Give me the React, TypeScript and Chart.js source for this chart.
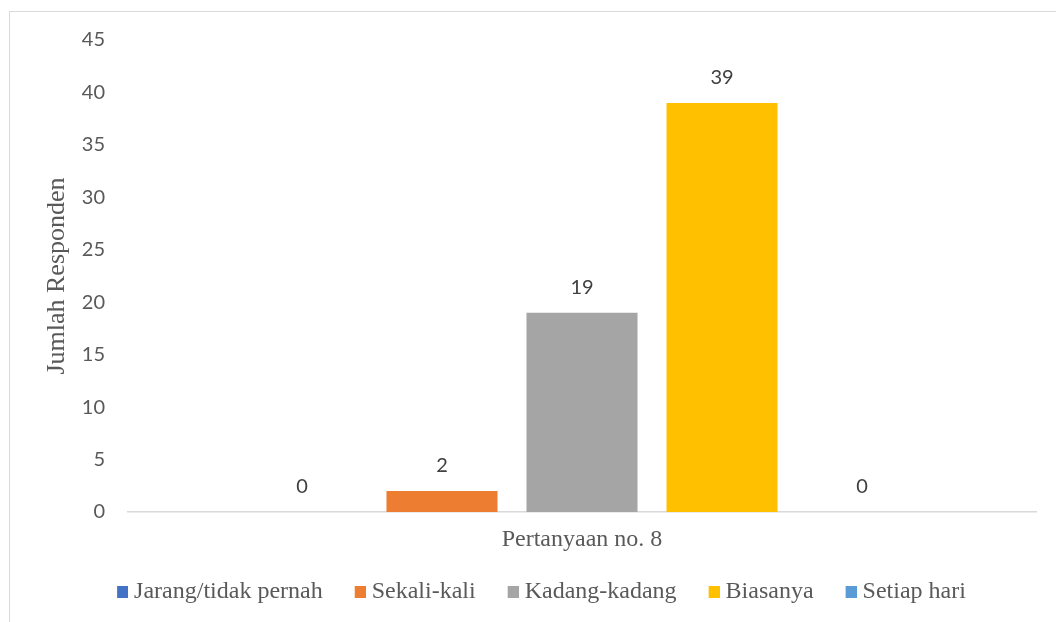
import React, { useEffect, useRef } from "react";
import { Chart, registerables } from "chart.js";

Chart.register(...registerables);

const categories = ["Pertanyaan no. 8"];
const seriesNames = ["Jarang/tidak pernah", "Sekali-kali", "Kadang-kadang", "Biasanya", "Setiap hari"];
const seriesValues = [[0], [2], [19], [39], [0]];
const seriesColors = ["#4472C4", "#ED7D31", "#A5A5A5", "#FFC000", "#5B9BD5"];
const yTitle = "Jumlah Responden";
const yMax = 45;
const yStep = 5;

const SANS = "Lato, 'Open Sans', sans-serif";
const SERIF = "'Liberation Serif', 'Times New Roman', serif";
const TEXT = "#595959";

const valueLabels = {
  id: "valueLabels",
  afterDatasetsDraw(chart: any) {
    const ctx = chart.ctx;
    ctx.save();
    ctx.font = `20px ${SANS}`;
    ctx.fillStyle = "#404040";
    ctx.textAlign = "center";
    ctx.textBaseline = "middle";
    chart.data.datasets.forEach((ds: any, i: number) => {
      const meta = chart.getDatasetMeta(i);
      meta.data.forEach((bar: any, j: number) => {
        ctx.fillText(String(ds.data[j]), bar.x, bar.y - 25);
      });
    });
    ctx.restore();
  },
};

const SW_W = 7; // pointStyleWidth
function makeSwatch(color: string) {
  const c = document.createElement("canvas");
  c.width = SW_W + 12;
  c.height = 12;
  const g = c.getContext("2d")!;
  g.fillStyle = color;
  g.fillRect(c.width - 11, 0, 11, 12);
  return c;
}

export default function App() {
  const ref = useRef<HTMLCanvasElement>(null);
  useEffect(() => {
    if (!ref.current) return;
    const swatches = seriesColors.map(makeSwatch);
    const chart = new Chart(ref.current, {
      type: "bar",
      data: {
        labels: categories,
        datasets: seriesNames.map((name, i) => ({
          label: name,
          data: seriesValues[i],
          backgroundColor: seriesColors[i],
          borderWidth: 0,
          categoryPercentage: 0.771,
          barPercentage: 0.793,
        })),
      },
      options: {
        animation: false,
        responsive: false,
        maintainAspectRatio: false,
        layout: { padding: { left: 51, right: 20, top: 40, bottom: 8 } },
        plugins: {
          legend: {
            position: "bottom",
            labels: {
              usePointStyle: true,
              pointStyleWidth: SW_W,
              boxHeight: 12,
              padding: 24,
              color: TEXT,
              font: { family: SERIF, size: 24 },
              generateLabels: (chart: any) =>
                chart.data.datasets.map((ds: any, i: number) => ({
                  text: ds.label + " ",
                  fillStyle: seriesColors[i],
                  strokeStyle: seriesColors[i],
                  lineWidth: 0,
                  pointStyle: swatches[i],
                  fontColor: TEXT,
                  hidden: false,
                  datasetIndex: i,
                })),
            },
          },
          tooltip: { enabled: false },
        },
        scales: {
          x: {
            grid: { display: false, drawTicks: false },
            border: { display: true, color: "#D9D9D9", width: 1.5 },
            ticks: { color: TEXT, font: { family: SERIF, size: 24 }, padding: 13.5 },
            afterFit(scale: any) {
              scale.height = 44;
            },
          },
          y: {
            min: 0,
            max: yMax,
            grid: { display: false, drawTicks: false },
            border: { display: false },
            ticks: { stepSize: yStep, color: TEXT, font: { family: SANS, size: 20 }, padding: 23 },
            title: {
              display: true,
              text: yTitle,
              color: TEXT,
              font: { family: SERIF, size: 26, weight: "normal" },
              padding: { top: -9.6, bottom: 0 },
            },
            afterFit(scale: any) {
              scale.width = 77;
            },
          },
        },
      },
      plugins: [valueLabels],
    });
    return () => chart.destroy();
  }, []);
  return (
    <div style={{ position: "fixed", left: 0, top: 0, width: 1056, height: 622, background: "#fff", overflow: "hidden" }}>
      <div
        style={{
          position: "absolute",
          left: 9,
          top: 11,
          width: 1100,
          height: 700,
          border: "1px solid #D9D9D9",
          boxSizing: "border-box",
        }}
      />
      <canvas ref={ref} width={1056} height={622} style={{ position: "absolute", left: 0, top: 0 }} />
    </div>
  );
}
